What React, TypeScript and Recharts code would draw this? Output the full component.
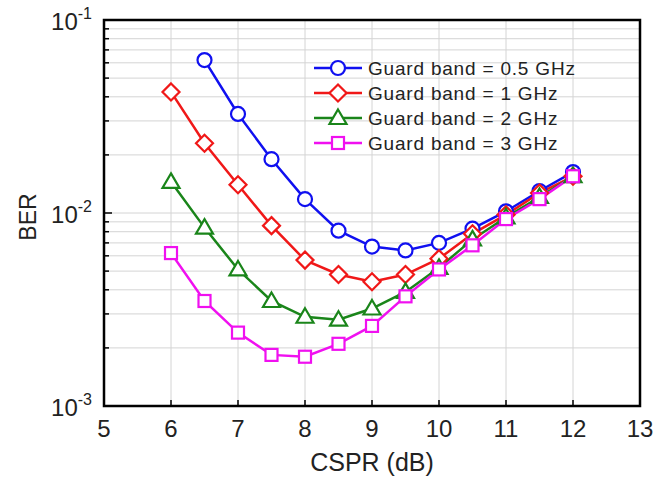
import { LineChart, Line, XAxis, YAxis, CartesianGrid, ReferenceArea } from "recharts";

const cspr = [6, 6.5, 7, 7.5, 8, 8.5, 9, 9.5, 10, 10.5, 11, 11.5, 12];
const ber05 = [null, 0.062, 0.0326, 0.019, 0.0118, 0.0081, 0.0067, 0.0064, 0.007, 0.0083, 0.0102, 0.013, 0.0163];
const ber1 = [0.0424, 0.023, 0.014, 0.0086, 0.0057, 0.0048, 0.0044, 0.0048, 0.0058, 0.0078, 0.0098, 0.0127, 0.0155];
const ber2 = [0.0145, 0.0084, 0.0051, 0.0035, 0.0029, 0.0028, 0.0032, 0.0039, 0.0052, 0.0073, 0.0095, 0.0121, 0.0155];
const ber3 = [0.0062, 0.0035, 0.0024, 0.00184, 0.0018, 0.0021, 0.0026, 0.0037, 0.0051, 0.0068, 0.0093, 0.0118, 0.0155];

const xTicks = [5, 6, 7, 8, 9, 10, 11, 12, 13];
const yTicks = [
  0.001, 0.002, 0.003, 0.004, 0.005, 0.006, 0.007, 0.008, 0.009,
  0.01, 0.02, 0.03, 0.04, 0.05, 0.06, 0.07, 0.08, 0.09, 0.1,
];
const yLabels: Record<string, string> = { "0.001": "-3", "0.01": "-2", "0.1": "-1" };

const series = [
  { key: "g05", name: "Guard band = 0.5 GHz", color: "#1010f0", shape: "circle", values: ber05 },
  { key: "g1", name: "Guard band = 1 GHz", color: "#f01818", shape: "diamond", values: ber1 },
  { key: "g2", name: "Guard band = 2 GHz", color: "#1a851a", shape: "triangle", values: ber2 },
  { key: "g3", name: "Guard band = 3 GHz", color: "#f010f0", shape: "square", values: ber3 },
];

const data = cspr.map((x, i) => {
  const row: Record<string, number | null> = { x };
  series.forEach((s) => (row[s.key] = s.values[i]));
  return row;
});

const FONT = "Arial, 'Liberation Sans', Helvetica, sans-serif";

function marker(shape: string, cx: number, cy: number, color: string, key?: string) {
  const p = { stroke: color, strokeWidth: 2.2, fill: "#fff", key };
  if (shape === "circle") return <circle cx={cx} cy={cy} r={7} {...p} />;
  if (shape === "diamond")
    return <polygon points={`${cx},${cy - 8.5} ${cx + 8.5},${cy} ${cx},${cy + 8.5} ${cx - 8.5},${cy}`} {...p} />;
  if (shape === "triangle")
    return <polygon points={`${cx},${cy - 8.5} ${cx + 8.5},${cy + 6} ${cx - 8.5},${cy + 6}`} {...p} />;
  return <rect x={cx - 6} y={cy - 6} width={12} height={12} {...p} />;
}

function XTick(props: any) {
  const { x, y, payload } = props;
  return (
    <g>
      <line x1={x} x2={x} y1={y} y2={y - 6} stroke="#000" strokeWidth={1.5} />
      <text x={x} y={y + 31} textAnchor="middle" fontSize={24} fontFamily={FONT} fill="#222">
        {payload.value}
      </text>
    </g>
  );
}

function YTick(props: any) {
  const { x, y, payload } = props;
  const exp = yLabels[String(payload.value)];
  const major = exp !== undefined;
  return (
    <g>
      <line x1={x} x2={x + (major ? 8 : 5)} y1={y} y2={y} stroke="#000" strokeWidth={1.5} />
      {major && (
        <text x={x - 12} y={y + 10} textAnchor="end" fontSize={24} fontFamily={FONT} fill="#222">
          <tspan>10</tspan>
          <tspan dy={-11} fontSize={16}>{exp}</tspan>
        </text>
      )}
    </g>
  );
}

function LegendBox() {
  return (
    <svg width={300} height={110} style={{ display: "block" }}>
      {series.map((s, i) => {
        const cy = 13 + i * 25;
        return (
          <g key={s.key}>
            <line x1={4} x2={52} y1={cy} y2={cy} stroke={s.color} strokeWidth={2.5} />
            {marker(s.shape, 28, cy, s.color)}
            <text x={58} y={cy + 7} fontSize={19} letterSpacing={0.8} fontFamily={FONT} fill="#222">
              {s.name}
            </text>
          </g>
        );
      })}
    </svg>
  );
}

export default function App() {
  return (
    <div style={{ position: "absolute", left: 0, top: 0, width: 668, height: 482, background: "#fff" }}>
      <LineChart width={668} height={482} data={data} margin={{ top: 20, right: 28, left: 44, bottom: 36 }}>
        <CartesianGrid stroke="#d4d4d4" strokeWidth={1} />
        <XAxis
          dataKey="x"
          type="number"
          domain={[5, 13]}
          ticks={xTicks}
          interval={0}
          tickSize={0}
          tickMargin={0}
          axisLine={false}
          tick={<XTick />}
          height={40}
        />
        <YAxis
          scale="log"
          type="number"
          domain={[0.001, 0.1]}
          ticks={yTicks}
          interval={0}
          allowDataOverflow
          tickSize={0}
          tickMargin={0}
          axisLine={false}
          tick={<YTick />}
          width={60}
        />
        <ReferenceArea x1={5} x2={13} y1={0.001} y2={0.1} fill="none" stroke="#000" strokeWidth={2.5} ifOverflow="visible" />
        {series.map((s) => (
          <Line
            key={s.key}
            dataKey={s.key}
            name={s.name}
            stroke={s.color}
            strokeWidth={2.5}
            isAnimationActive={false}
            dot={(p: any) => (p.cy == null || p.value == null ? <g key={p.index} /> : marker(s.shape, p.cx, p.cy, s.color, String(p.index)))}
            activeDot={false}
          />
        ))}
      </LineChart>
      <svg style={{ position: "absolute", left: 0, top: 0 }} width={60} height={482}>
        <text
          x={0}
          y={0}
          transform="translate(36 217) rotate(-90)"
          textAnchor="middle"
          fontSize={23}
          fontFamily={FONT}
          fill="#222"
        >
          BER
        </text>
      </svg>
      <div style={{ position: "absolute", left: 310, top: 55 }}>
        <LegendBox />
      </div>
      <div
        style={{
          position: "absolute",
          left: 104,
          width: 536,
          top: 447,
          textAlign: "center",
          fontSize: 25,
          lineHeight: "30px",
          fontFamily: FONT,
          color: "#222",
        }}
      >
        CSPR (dB)
      </div>
    </div>
  );
}
